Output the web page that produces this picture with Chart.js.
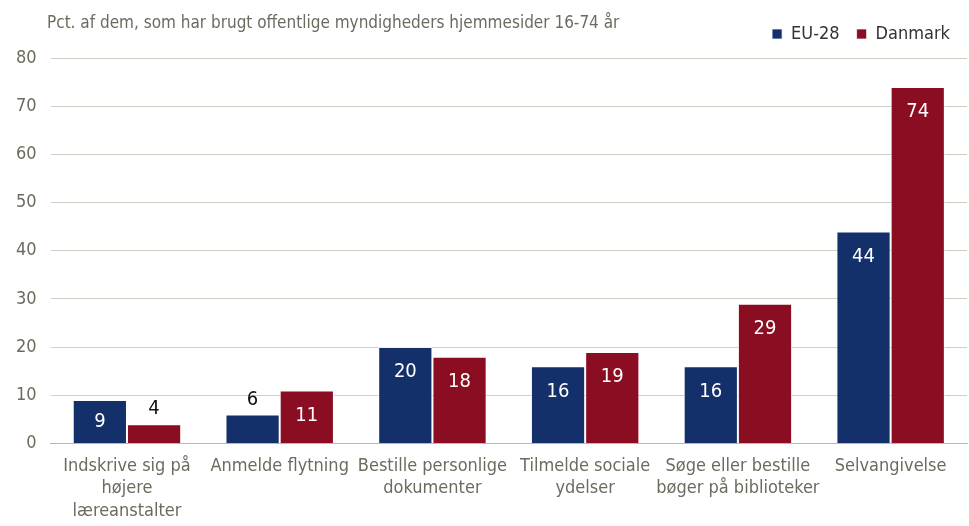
<!DOCTYPE html>
<html>
<head>
<meta charset="utf-8">
<script src="https://cdn.jsdelivr.net/npm/chart.js@4/dist/chart.umd.min.js"></script>
<style>
  body { margin: 0; background: #fff; }
  #wrap { position: relative; width: 969px; height: 526px; }
  #title { position: absolute; left: 47px; top: 12px; font: 17px "Liberation Sans Narrow", "DejaVu Sans Condensed", sans-serif; color: #6b6b5e; }
</style>
</head>
<body>
<div id="wrap">
  <div id="title">Pct. af dem, som har brugt offentlige myndigheders hjemmesider 16-74 år</div>
  <canvas id="c1" width="969" height="526"></canvas>
</div>
<script>
// categories and values
var categories = [
  ['Indskrive sig på', 'højere', 'læreanstalter'],
  'Anmelde flytning',
  ['Bestille personlige', 'dokumenter'],
  ['Tilmelde sociale', 'ydelser'],
  ['Søge eller bestille', 'bøger på biblioteker'],
  'Selvangivelse'
];
var eu28 = [9, 6, 20, 16, 16, 44];
var danmark = [4, 11, 18, 19, 29, 74];
var yTicks = [0, 10, 20, 30, 40, 50, 60, 70, 80];

var fontName = '"Liberation Sans Narrow", "DejaVu Sans Condensed", sans-serif';
var grey = '#6b6b5e';

// draws the numbers on the bars
var barLabels = {
  id: 'barLabels',
  afterDatasetsDraw: function(chart) {
    var ctx = chart.ctx;
    ctx.save();
    ctx.font = '20px ' + fontName;
    ctx.textAlign = 'center';
    ctx.textBaseline = 'middle';
    chart.data.datasets.forEach(function(ds, di) {
      chart.getDatasetMeta(di).data.forEach(function(bar, i) {
        var v = ds.data[i];
        if (v >= 8) {
          ctx.fillStyle = '#ffffff';
          var y = Math.min(bar.y + 25, (bar.y + bar.base) / 2);
          ctx.fillText(v, bar.x, y);
        } else {
          ctx.fillStyle = '#111111';
          ctx.fillText(v, bar.x, bar.y - 15);
        }
      });
    });
    ctx.restore();
  }
};

// extra room under the legend
var legendGap = {
  id: 'legendGap',
  beforeInit: function(chart) {
    var fit = chart.legend.fit;
    chart.legend.fit = function() {
      fit.bind(chart.legend)();
      this.height += 5;
    };
  }
};

var ctx = document.getElementById('c1').getContext('2d');
var chart1 = new Chart(ctx, {
  type: 'bar',
  data: {
    labels: categories,
    datasets: [{
      label: 'EU-28',
      data: eu28,
      backgroundColor: '#13306a',
      borderColor: 'rgba(255,255,255,0.7)',
      borderWidth: 1
    }, {
      label: 'Danmark',
      data: danmark,
      backgroundColor: '#8b0d22',
      borderColor: 'rgba(255,255,255,0.7)',
      borderWidth: 1
    }]
  },
  options: {
    responsive: false,
    animation: false,
    layout: { padding: { top: 8, right: 2, left: 2, bottom: 0 } },
    categoryPercentage: 0.71,
    barPercentage: 1.0,
    plugins: {
      legend: {
        align: 'end',
        labels: {
          color: '#333333',
          font: { family: fontName, size: 18 },
          boxWidth: 10,
          boxHeight: 10,
          padding: 17
        }
      },
      tooltip: { enabled: false }
    },
    scales: {
      x: {
        grid: { display: false },
        border: { color: '#b9b9aa' },
        ticks: {
          color: grey,
          font: { family: fontName, size: 18, lineHeight: 1.27 },
          maxRotation: 0,
          autoSkip: false,
          padding: 3
        }
      },
      y: {
        min: 0,
        max: 80,
        afterBuildTicks: function(axis) {
          axis.ticks = yTicks.map(function(v) { return { value: v }; });
        },
        grid: { color: '#cfcfc2', drawTicks: false },
        border: { display: false },
        ticks: {
          color: grey,
          font: { family: fontName, size: 18 },
          padding: 14
        }
      }
    }
  },
  plugins: [barLabels, legendGap]
});
</script>
</body>
</html>
